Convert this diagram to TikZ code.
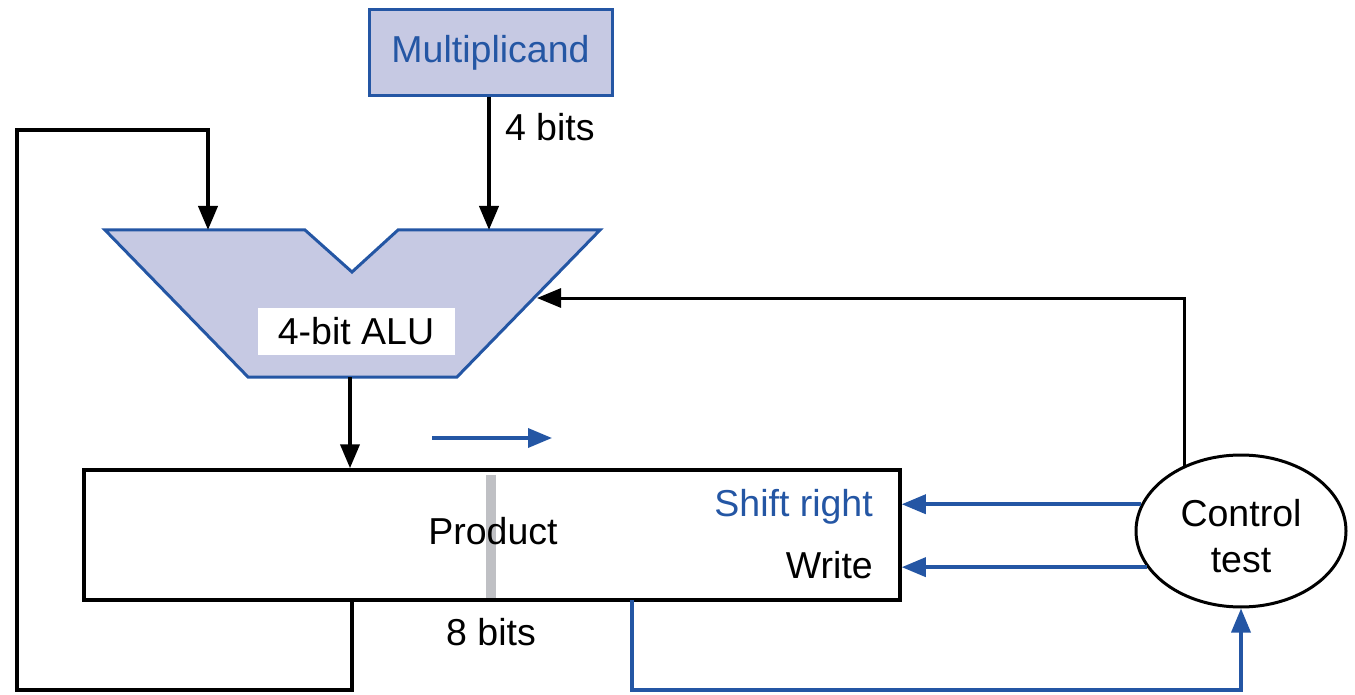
\documentclass[tikz,border=0pt]{standalone}
\usepackage{fontspec}
\setmainfont{Liberation Sans}
\usetikzlibrary{arrows.meta,shapes.geometric}
\definecolor{pblue}{HTML}{2456A4}
\definecolor{pfill}{HTML}{C6C9E3}
\definecolor{pgray}{HTML}{BFC0C4}
\begin{document}
\begin{tikzpicture}[x=1pt,y=-1pt,
  font=\fontsize{37.5}{45}\selectfont,
  wire/.style={line width=4pt,line join=miter,-{Triangle[length=24pt,width=19pt]}},
  thinwire/.style={line width=3pt,line join=miter,-{Triangle[length=24pt,width=19pt]}},
  bwire/.style={pblue,line width=3.5pt,line join=miter,-{Triangle[length=24pt,width=19pt]}},
  regbox/.style={draw=pblue,fill=pfill,line width=3pt},
  lbl/.style={inner sep=0pt}]
\useasboundingbox (0,0) rectangle (1355,695);

% Multiplicand register
\node[regbox,minimum width=243pt,minimum height=86pt,text=pblue] (mc) at (490.5,53) {Multiplicand};

% ALU
\draw[regbox,line join=miter] (105,230) -- (305,230) -- (352,272) -- (398,230) -- (600,230) -- (457,377) -- (248,377) -- cycle;
\coordinate (aluA) at (208,230);
\coordinate (aluB) at (489,230);
\coordinate (aluR) at (537,298);
\coordinate (aluOut) at (350,377);
\node[fill=white,minimum width=197pt,minimum height=47pt,inner sep=0pt] (alulbl) at (356,331) {4-bit ALU};

% Product register
\fill[pgray] (486,475) rectangle (496,598);
\node[draw,line width=3.5pt,minimum width=816pt,minimum height=130pt] (prod) at (492,535) {};
\node[lbl] (prodlbl) at (493,531) {Product};
\node[lbl,anchor=east,text=pblue] (shr) at (873,507) {Shift right};
\node[lbl,anchor=east] (wr) at (873,565) {Write};
\node[lbl] (eight) at (491,632) {8 bits};
\coordinate (pfb) at (352,600);
\coordinate (pbl) at (632,600);

% Control
\node[ellipse,draw,line width=3pt,minimum width=210pt,minimum height=152pt,inner sep=0pt] (ct) at (1241,531) {};
\node[lbl,align=center,font=\fontsize{37.5}{46}\selectfont] (ctlbl) at (1241,536) {Control\\test};

% Shift direction arrow
\coordinate (sa) at (432,438);
\coordinate (sb) at (552,438);
\draw[bwire] (sa) -- (sb);

% Connectors
\draw[wire] (mc.south -| aluB) -- node[lbl,anchor=west,xshift=14pt,pos=0.22] (fourbits) {4 bits} (aluB);
\draw[wire] (pfb) -- (352,690) -- (17,690) -- (17,130) -| (aluA);
\draw[wire] (aluOut) -- (aluOut |- prod.north);
\draw[thinwire] (ct.131.7) |- (aluR);
\draw[bwire] (ct.165) -- (ct.165 -| prod.east);
\draw[bwire] (ct.201) -- (ct.201 -| prod.east);
\draw[bwire] (pbl) -- (632,690) -| (ct.south);
\end{tikzpicture}
\end{document}
